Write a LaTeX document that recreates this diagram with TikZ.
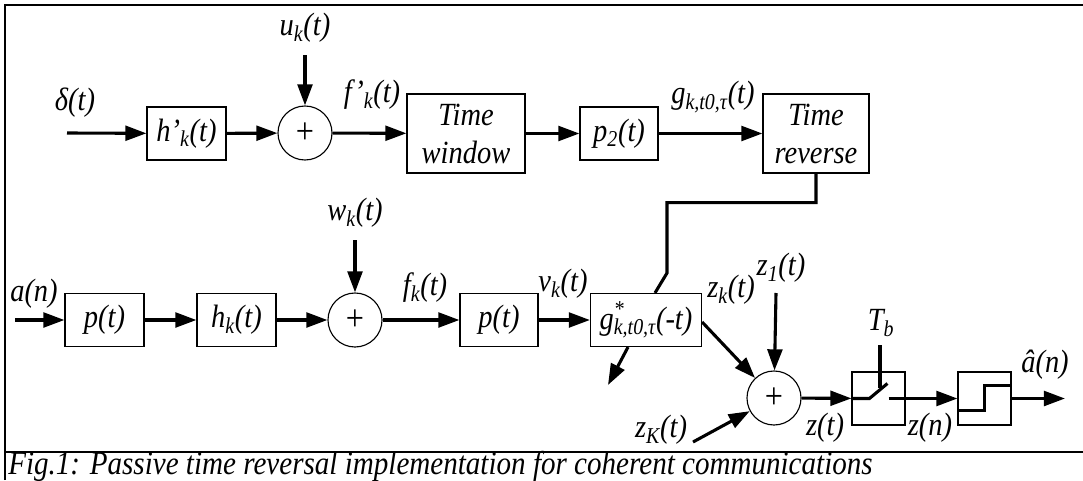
\documentclass[tikz,border=0pt]{standalone}
\usepackage{fontspec}
\setmainfont{Liberation Serif}[FakeStretch=0.88]
\usetikzlibrary{arrows.meta,calc}
\newcommand{\sigtxt}{\fontsize{23}{27}\selectfont\itshape}

\begin{document}
\begin{tikzpicture}[x=0.025cm,y=-0.025cm,line join=miter,>={Triangle[length=15pt,width=10.5pt]},
  blk/.style={draw,line width=0.8pt,inner sep=0pt,minimum width=1.975cm,minimum height=1.325cm,font=\sigtxt},
  sum/.style={draw,circle,line width=0.8pt,inner sep=0pt,minimum size=1.35cm,font=\fontsize{26}{26}\selectfont},
  sig/.style={line width=2.2pt,->},
  wire/.style={line width=2.2pt},
  lbl/.style={inner sep=0pt,font=\sigtxt}]
\fill[white] (0,0) rectangle (1083,480);
\useasboundingbox (0,0) rectangle (1083,480);
% frame and caption
\draw[line width=1pt] (5,480) -- (5,5) -- (1083,5);
\draw[line width=1pt] (5,452) -- (1083,452);
\node[anchor=west,inner sep=0pt,font=\fontsize{23.5}{26}\selectfont\itshape] (cap) at (8,466) {Fig.1: Passive time reversal implementation for coherent communications};
% top row
\node[blk] (hp) at (186.5,133.5) {h'\textsubscript{k}(t)};
\node[sum] (s1) at (305,133) {+};
\node[blk,minimum width=2.95cm,minimum height=1.975cm,align=center] (tw) at (466,133.5) {Time\\window};
\node[blk,minimum width=1.95cm] (p2) at (619,133.5) {p\textsubscript{2}(t)};
\node[blk,minimum width=2.65cm,minimum height=1.975cm,align=center] (tr) at (816,133.5) {Time\\reverse};
% bottom row
\node[blk] (p1) at (104.5,320) {p(t)};
\node[blk] (hk) at (236.5,320) {h\textsubscript{k}(t)};
\node[sum] (s2) at (355,320) {+};
\node[blk,minimum width=1.95cm] (p3) at (499,320) {p(t)};
\node[blk,minimum width=2.775cm] (mf) at (646,320) {g\rlap{\textsuperscript{*}}\textsubscript{k,t0,τ}(-t)};
\node[sum] (s3) at (774,398) {+};
\node[blk,minimum width=1.325cm] (smp) at (878.5,398.5) {};
\node[blk,minimum width=1.325cm] (qnt) at (984.5,398.5) {};
% free ends
\coordinate (din) at (67,133);
\coordinate (uin) at (305,55);
\coordinate (ain) at (15,320);
\coordinate (win) at (355,240);
\coordinate (z1in) at (776,293);
\coordinate (zKin) at (693,442);
\coordinate (dn) at (608,385);
\coordinate (tb) at (880,345);
\coordinate (aout) at (1065,398.5);
\coordinate (bend) at (667,273);
% connectors
\draw[sig] (din) -- (hp);
\draw[sig] (hp) -- (s1);
\draw[sig] (uin) -- (s1);
\draw[sig] (s1) -- (tw);
\draw[sig] (tw) -- (p2);
\draw[sig] (p2) -- (tr);
\draw[wire] (tr.south) -- ++(0,29) -| (bend) -- ($(mf.north)+(9,0)$);
\draw[sig] (ain) -- (p1);
\draw[sig] (p1) -- (hk);
\draw[sig] (hk) -- (s2);
\draw[sig] (win) -- (s2);
\draw[sig] (s2) -- (p3);
\draw[sig] (p3) -- (mf);
\draw[sig] ($(mf.south)+(-18,0)$) -- (dn);
\draw[sig] ($(mf.east)+(0,2)$) -- (s3);
\draw[sig] (z1in) -- (s3);
\draw[sig] (zKin) -- (s3);
\draw[sig] (s3) -- (smp);
% sampler and slicer
\draw[wire] (smp.west) -- ++(18,0) -- ++(18,-15);
\draw[wire] (tb) -- (880,388);
\draw[sig] ($(smp.center)+(10,0)$) -- (qnt);
\draw[wire] ($(qnt.west)+(0,12)$) -| ($(qnt.center)+(0,-13)$) -- ($(qnt.east)+(0,-13)$);
\draw[sig] (qnt) -- (aout);
% labels
\foreach \p/\n/\t in {{(75,103)}/ld/δ(t), {(305,28)}/lu/u\textsubscript{k}(t), {(372,95)}/lfp/f'\textsubscript{k}(t),
  {(713,97)}/lg/g\textsubscript{k,t0,τ}(t), {(34,294)}/la/a(n), {(355,213)}/lw/w\textsubscript{k}(t),
  {(425,288)}/lf/f\textsubscript{k}(t), {(563,284)}/lv/v\textsubscript{k}(t), {(731,290)}/lzk/z\textsubscript{k}(t),
  {(781,268)}/lz1/z\textsubscript{1}(t), {(661,430)}/lzK/z\textsubscript{K}(t), {(881,323)}/ltb/T\textsubscript{b},
  {(825,428)}/lzt/z(t), {(930,428)}/lzn/z(n), {(1045,365)}/lah/â(n)}
  {\node[lbl] (\n) at \p {\t};}
\end{tikzpicture}
\end{document}
